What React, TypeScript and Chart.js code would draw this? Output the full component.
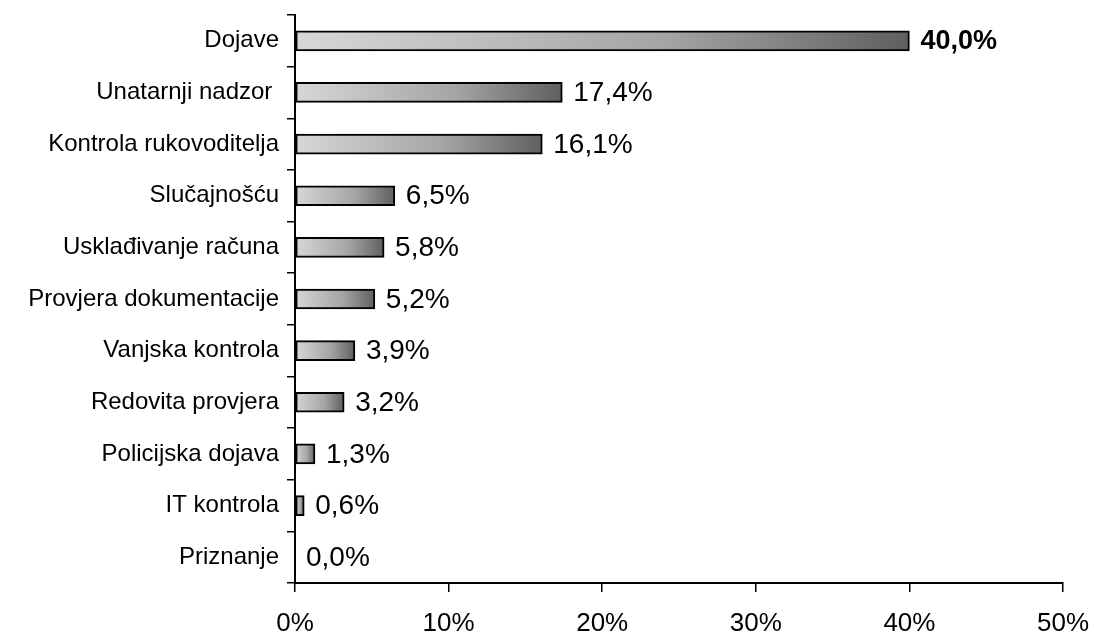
import React, { useEffect, useRef } from "react";
import { Chart, registerables } from "chart.js";

Chart.register(...registerables);

const categories = [
  "Dojave",
  "Unatarnji nadzor ",
  "Kontrola rukovoditelja",
  "Slučajnošću",
  "Usklađivanje računa",
  "Provjera dokumentacije",
  "Vanjska kontrola",
  "Redovita provjera",
  "Policijska dojava",
  "IT kontrola",
  "Priznanje",
];
const values = [40.0, 17.4, 16.1, 6.5, 5.8, 5.2, 3.9, 3.2, 1.3, 0.6, 0.0];
const xTicks = [0, 10, 20, 30, 40, 50];
const boldIndex = 0;

const FONT = "'Liberation Sans', Arial, sans-serif";

const valueLabels = {
  id: "valueLabels",
  afterDatasetsDraw(chart: any) {
    const ctx = chart.ctx;
    const meta = chart.getDatasetMeta(0);
    ctx.save();
    ctx.fillStyle = "#000";
    ctx.textBaseline = "middle";
    ctx.textAlign = "left";
    meta.data.forEach((bar: any, i: number) => {
      const v = values[i];
      const txt = v.toFixed(1).replace(".", ",") + "%";
      ctx.font = (i === boldIndex ? "bold 27px " : "28px ") + FONT;
      ctx.fillText(txt, bar.x + 11, bar.y + 1);
    });
    ctx.restore();
  },
};

export default function App() {
  const ref = useRef<HTMLCanvasElement | null>(null);
  useEffect(() => {
    document.body.style.margin = "0";
    const canvas = ref.current!;
    const chart = new Chart(canvas, {
      type: "bar",
      data: {
        labels: categories,
        datasets: [
          {
            data: values,
            barThickness: 20,
            borderColor: "#000",
            borderWidth: 2,
            borderSkipped: false,
            backgroundColor: (c: any) => {
              const ch = c.chart;
              const xs = ch.scales && ch.scales.x;
              if (!xs || c.raw === undefined) return "#bbb";
              const x0 = xs.getPixelForValue(0);
              const x1 = xs.getPixelForValue(c.raw);
              if (!isFinite(x0) || !isFinite(x1) || x1 - x0 < 1) return "#d8d8d8";
              const g = ch.ctx.createLinearGradient(x0, 0, x1, 0);
              g.addColorStop(0, "rgb(215,215,215)");
              g.addColorStop(0.6, "rgb(165,165,165)");
              g.addColorStop(1, "rgb(95,95,95)");
              return g;
            },
          },
        ],
      },
      options: {
        indexAxis: "y",
        responsive: false,
        animation: false,
        devicePixelRatio: 1,
        layout: { padding: { top: 15, right: 31, left: 0, bottom: 0 } },
        plugins: {
          legend: { display: false },
          tooltip: { enabled: false },
        },
        scales: {
          x: {
            min: 0,
            max: 50,
            afterBuildTicks: (s: any) => {
              s.ticks = xTicks.map((v) => ({ value: v }));
            },
            afterFit: (s: any) => {
              s.height = 53;
              s.paddingLeft = 0;
              s.paddingRight = 0;
              s.paddingTop = 0;
              s.paddingBottom = 0;
            },
            grid: {
              drawOnChartArea: false,
              drawTicks: true,
              tickLength: 9,
              color: "#000",
              lineWidth: 1.5,
            },
            border: { display: true, color: "#000", width: 2 },
            ticks: {
              color: "#000",
              padding: 16,
              font: { family: FONT, size: 26 },
              callback: (v: any) => v + "%",
              maxRotation: 0,
            },
          },
          y: {
            afterFit: (s: any) => {
              s.width = 295;
              s.paddingLeft = 0;
              s.paddingRight = 0;
              s.paddingTop = 0;
              s.paddingBottom = 0;
            },
            grid: {
              drawOnChartArea: false,
              drawTicks: true,
              tickLength: 8,
              color: "#000",
              lineWidth: 1.5,
              offset: true,
            },
            border: { display: true, color: "#000", width: 2 },
            ticks: {
              color: "#000",
              padding: 8,
              font: { family: FONT, size: 24 },
              autoSkip: false,
            },
          },
        },
      },
      plugins: [valueLabels],
    } as any);
    return () => chart.destroy();
  }, []);
  return (
    <div style={{ width: 1094, height: 636, background: "#fff" }}>
      <canvas ref={ref} width={1094} height={636} style={{ display: "block" }} />
    </div>
  );
}
